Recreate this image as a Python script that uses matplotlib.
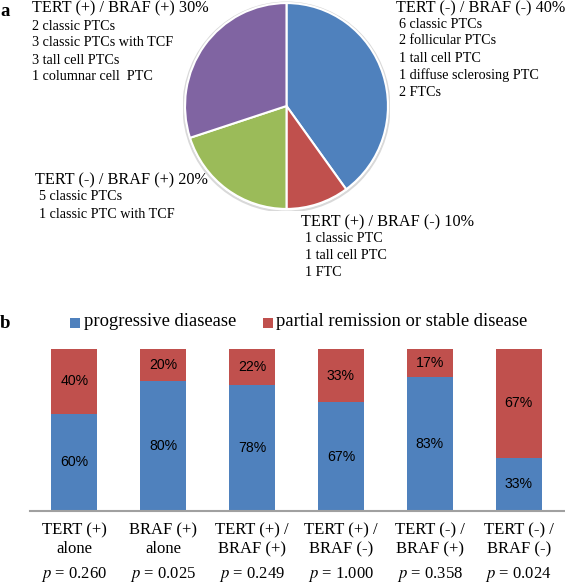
import matplotlib as mpl
import matplotlib.pyplot as plt
import numpy as np
from matplotlib.patches import Rectangle, Ellipse

mpl.rcParams['mathtext.fontset'] = 'stix'

# panel a data
pie_groups = ['TERT (-) / BRAF (-)', 'TERT (+) / BRAF (-)', 'TERT (-) / BRAF (+)', 'TERT (+) / BRAF (+)']
pie_pct = [40, 10, 20, 30]
pie_details = [
    ['6 classic PTCs', '2 follicular PTCs', '1 tall cell PTC', '1 diffuse sclerosing PTC', '2 FTCs'],
    ['1 classic PTC', '1 tall cell PTC', '1 FTC'],
    ['5 classic PTCs', '1 classic PTC with TCF'],
    ['2 classic PTCs', '3 classic PTCs with TCF', '3 tall cell PTCs', '1 columnar cell  PTC'],
]
pie_colors = ['#4F81BD', '#C0504D', '#9BBB59', '#8064A2']

# panel b data
categories = ['TERT (+)\nalone', 'BRAF (+)\nalone', 'TERT (+) /\nBRAF (+)',
              'TERT (+) /\nBRAF (-)', 'TERT (-) /\nBRAF (+)', 'TERT (-) /\nBRAF (-)']
progressive = [60, 80, 78, 67, 83, 33]
remission = [40, 20, 22, 33, 17, 67]
p_values = ['0.260', '0.025', '0.249', '1.000', '0.358', '0.024']
legend_labels = ['progressive diasease', 'partial remission or stable disease']

W, H = 565, 583
fig = plt.figure(figsize=(W / 100, H / 100), dpi=100)


def px(x, y):
    # pixel position (from top left) -> figure fraction
    return x / W, 1 - y / H


serif = 'Liberation Serif'

# ---- panel a: pie ----
axp = fig.add_axes([183 / W, (H - 211) / H, 207 / W, 210 / H])
axp.add_patch(Ellipse((0, -0.01), 2.03, 2.03, facecolor='none', edgecolor='#d9d9d9', linewidth=1.5))
axp.pie(pie_pct, colors=pie_colors, startangle=90, counterclock=False,
        wedgeprops=dict(edgecolor='white', linewidth=1.5))
axp.set_aspect('auto')
axp.set_xlim(-1.02, 1.02)
axp.set_ylim(-1.02, 1.02)

# label blocks: (title x, title y, detail x, first detail y, line step)
label_pos = [(396, 8, 399, 24, 17), (301, 222, 305, 239, 16.5),
             (35, 180, 39, 197, 17), (32, 8, 32, 26, 17)]
for g, pct, det, (tx, ty, dx, dy, step) in zip(pie_groups, pie_pct, pie_details, label_pos):
    fig.text(*px(tx, ty), f'{g} {pct}%', family=serif, fontsize=11.7, ha='left', va='center')
    for i, line in enumerate(det):
        fig.text(*px(dx, dy + i * step), line, family=serif, fontsize=10.2, ha='left', va='center')

fig.text(*px(0, 12), 'a', family=serif, fontsize=13.5, fontweight='bold', ha='left', va='center')
fig.text(*px(0, 323), 'b', family=serif, fontsize=13.5, fontweight='bold', ha='left', va='center')

# ---- panel b: stacked bars ----
axb = fig.add_axes([30 / W, (H - 511) / H, 535 / W, 162 / H])
x = np.arange(len(categories))
axb.bar(x, progressive, width=0.517, color=pie_colors[0])
axb.bar(x, remission, width=0.517, bottom=progressive, color=pie_colors[1])
for xi, pv, rv in zip(x, progressive, remission):
    axb.text(xi, pv / 2, f'{pv}%', ha='center', va='center', family='Liberation Sans', fontsize=10.2)
    axb.text(xi, pv + rv / 2, f'{rv}%', ha='center', va='center', family='Liberation Sans', fontsize=10.2)

axb.set_xlim(-0.497, 5.52)
axb.set_ylim(0, 100)
axb.set_yticks([])
axb.set_xticks([])
for s in ['top', 'right', 'left']:
    axb.spines[s].set_visible(False)
axb.spines['bottom'].set_color('#A0A0A0')
axb.spines['bottom'].set_linewidth(1.5)

# category labels and p values under the bars
for xi, cat, pv in zip(x, categories, p_values):
    tr = axb.get_xaxis_transform()
    top, bottom = cat.split('\n')
    for yy, txt in [(530, top), (549, bottom), (574, f'$p$ = {pv}')]:
        axb.text(xi, 1 - (yy - 349) / 162, txt, transform=tr, family=serif, fontsize=12,
                 ha='center', va='center', clip_on=False)

# legend drawn by hand: square + text
for lx, tx, col, lab in [(70, 84, pie_colors[0], legend_labels[0]),
                         (263, 276.5, pie_colors[1], legend_labels[1])]:
    fig.add_artist(Rectangle(px(lx, 328), 10 / W, 10 / H, transform=fig.transFigure,
                             facecolor=col, edgecolor='none'))
    fig.text(*px(tx, 322), lab, family=serif, fontsize=13.4, ha='left', va='center')

fig.savefig('out.png', dpi=100)
